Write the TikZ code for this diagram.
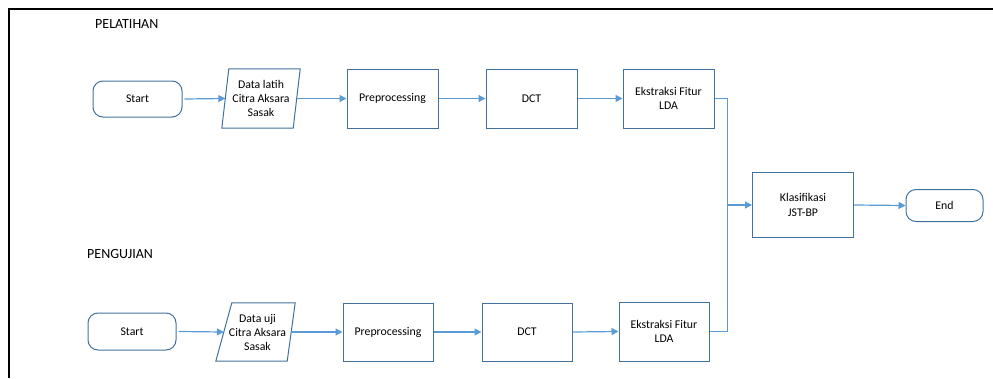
\documentclass[tikz,border=0pt]{standalone}
\usepackage{fontspec}
\setmainfont{Carlito}
\usetikzlibrary{arrows.meta}
\definecolor{boxc}{HTML}{41719C}
\definecolor{linec}{HTML}{5B9BD5}
\tikzset{
  box/.style={draw=boxc, line width=1pt, rectangle, align=center, inner sep=0pt, font=\fontsize{11.8}{14.5}\selectfont},
  term/.style={box, rounded corners=10pt},
  ghost/.style={rectangle, align=center, inner sep=0pt, font=\fontsize{11.8}{14}\selectfont},
  para/.style={draw=boxc, line width=1pt},
  conn/.style={draw=linec, line width=1.2pt},
  arr/.style={conn, -{Triangle[length=7pt,width=7pt]}},
  lbl/.style={font=\fontsize{14}{16}\selectfont, inner sep=0pt}
}
\begin{document}
\begin{tikzpicture}[x=1pt,y=-1pt]
\useasboundingbox (0,0) rectangle (993,378);
% frame
\draw[line width=2pt] (9,378) -- (9,9) -- (993,9);
% labels
\node[lbl, anchor=west] (pl) at (95,24) {PELATIHAN};
\node[lbl, anchor=west] (pg) at (87,254) {PENGUJIAN};
% top row
\node[term, minimum width=89pt, minimum height=36pt] (s1) at (137.5,99) {Start};
\node[ghost, minimum width=71pt, minimum height=59pt] (d1) at (261,98.5) {Data latih\\Citra Aksara\\Sasak};
\draw[para] ([xshift=3.5pt]d1.north west) -- ([xshift=3.5pt]d1.north east) -- ([xshift=-3.5pt]d1.south east) -- ([xshift=-3.5pt]d1.south west) -- cycle;
\node[box, minimum width=91pt, minimum height=59pt] (p1) at (392.5,98.5) {Preprocessing};
\node[box, minimum width=91pt, minimum height=59pt] (c1) at (531.5,98.5) {DCT};
\node[box, minimum width=91pt, minimum height=59pt] (e1) at (668.5,98.5) {Ekstraksi Fitur\\LDA};
% bottom row
\node[term, minimum width=88pt, minimum height=37pt] (s2) at (132,331.5) {Start};
\node[ghost, minimum width=67pt, minimum height=58pt] (d2) at (257.5,332) {Data uji\\Citra Aksara\\Sasak};
\draw[para] ([xshift=8pt]d2.north west) -- ([xshift=4pt]d2.north east) -- ([xshift=-4pt]d2.south east) -- ([xshift=-8pt]d2.south west) -- cycle;
\node[box, minimum width=90pt, minimum height=58pt] (p2) at (388,332) {Preprocessing};
\node[box, minimum width=90pt, minimum height=58pt] (c2) at (527,332) {DCT};
\node[box, minimum width=90pt, minimum height=59pt] (e2) at (664,331.5) {Ekstraksi Fitur\\LDA};
% right
\node[box, minimum width=101pt, minimum height=65pt] (k) at (803,205) {Klasifikasi\\JST-BP};
\node[term, minimum width=77pt, minimum height=32pt] (en) at (944.5,205.5) {End};
\coordinate (j) at (727.5,205);
% connectors
\draw[arr] ([xshift=2pt]s1.east) -- (d1.west);
\draw[arr] (d1.east) -- (p1.west);
\draw[arr] (p1.east) -- (c1.west);
\draw[arr] (c1.east) -- (e1.west);
\draw[arr] ([xshift=2pt]s2.east) -- (d2.west);
\draw[arr] (d2.east) -- (p2.west);
\draw[arr] (p2.east) -- (c2.west);
\draw[arr] (c2.east) -- (e2.west);
\draw[conn] (e1.east) -| (j);
\draw[conn] (e2.east) -| (j);
\draw[arr] (j) -- (k.west);
\draw[arr] (k.east) -- (en.west);
\end{tikzpicture}
\end{document}
